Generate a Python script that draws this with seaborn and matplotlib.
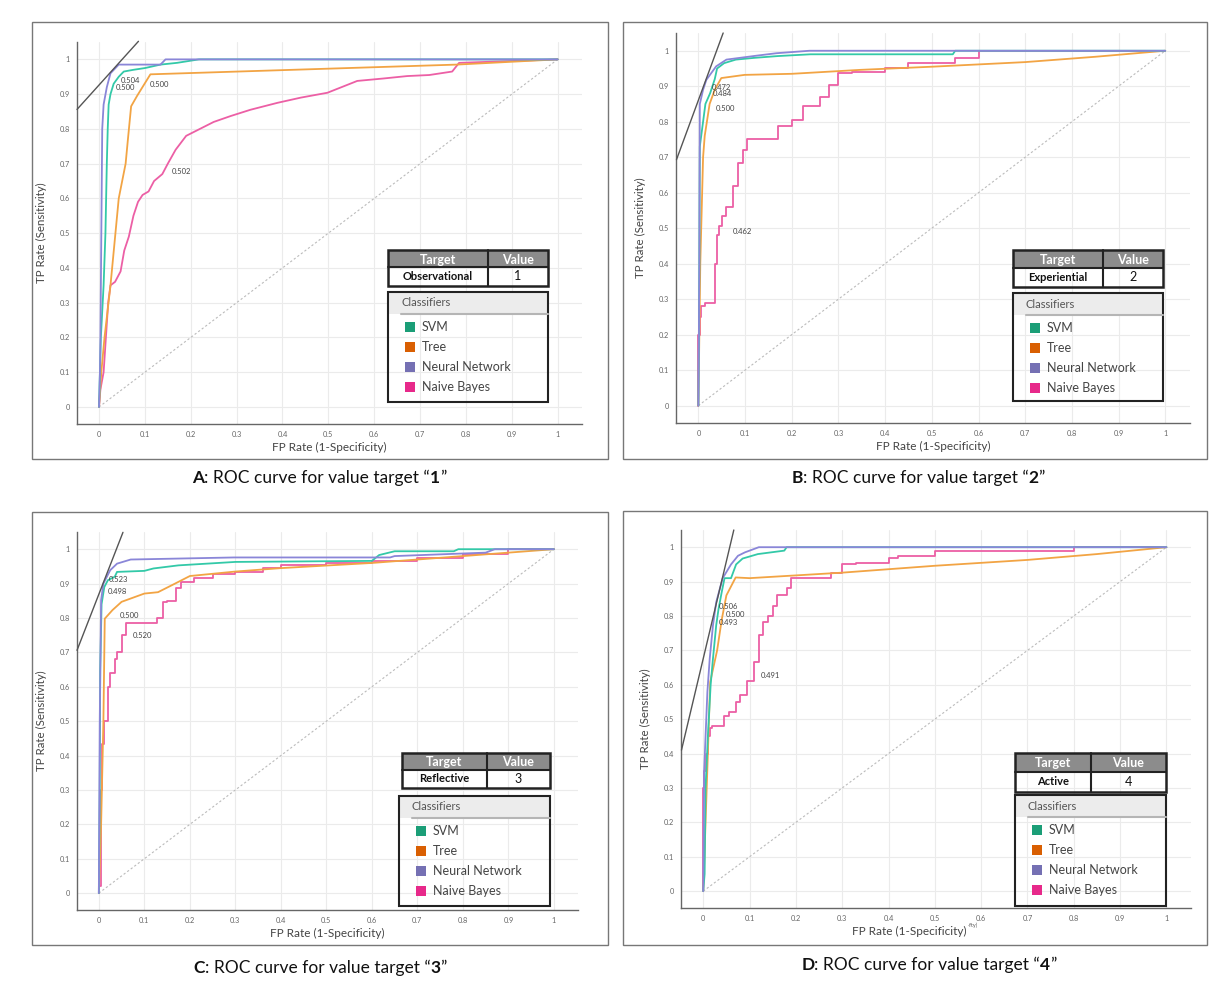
import pandas as pd
import seaborn as sns
import matplotlib.pyplot as plt
from matplotlib.patches import Rectangle
from matplotlib.lines import Line2D

# ---- data ----
classifiers = ['SVM', 'Tree', 'Neural Network', 'Naive Bayes']
legend_colors = ['#1b9e77', '#d95f02', '#7570b3', '#e7298a']
line_colors = ['#33c9a8', '#f2a444', '#8a86d8', '#ec5fa5']

panel_letters = ['A', 'B', 'C', 'D']
target_names = ['Observational', 'Experiential', 'Reflective', 'Active']
target_values = ['1', '2', '3', '4']

# panel A
a_svm_fpr = [0, 0.004, 0.010, 0.014, 0.017, 0.019, 0.021, 0.025, 0.032, 0.043, 0.054, 0.075, 0.100, 0.134, 0.170, 0.218, 1.0]
a_svm_tpr = [0, 0.20, 0.35, 0.50, 0.70, 0.80, 0.87, 0.90, 0.93, 0.95, 0.965, 0.970, 0.975, 0.985, 0.990, 1.0, 1.0]
a_tree_fpr = [0, 0.005, 0.012, 0.025, 0.043, 0.058, 0.063, 0.070, 0.083, 0.112, 0.780, 1.0]
a_tree_tpr = [0, 0.10, 0.20, 0.35, 0.60, 0.70, 0.77, 0.865, 0.895, 0.957, 0.985, 1.0]
a_nn_fpr = [0, 0.002, 0.003, 0.007, 0.010, 0.017, 0.025, 0.043, 0.134, 0.145, 1.0]
a_nn_tpr = [0, 0.10, 0.19, 0.80, 0.87, 0.92, 0.96, 0.985, 0.985, 1.0, 1.0]
a_nb_fpr = [0, 0.003, 0.010, 0.015, 0.020, 0.025, 0.035, 0.047, 0.055, 0.065, 0.075, 0.085, 0.095, 0.108,
            0.120, 0.138, 0.150, 0.167, 0.190, 0.220, 0.250, 0.287, 0.330, 0.389, 0.440, 0.498, 0.563, 0.620,
            0.672, 0.720, 0.770, 0.785, 1.0]
a_nb_tpr = [0, 0.05, 0.10, 0.20, 0.30, 0.35, 0.36, 0.39, 0.45, 0.49, 0.55, 0.59, 0.61, 0.62,
            0.65, 0.67, 0.70, 0.74, 0.78, 0.80, 0.82, 0.837, 0.855, 0.875, 0.89, 0.904, 0.938, 0.945,
            0.952, 0.955, 0.965, 0.99, 1.0]

# panel B
b_svm_fpr = [0, 0.002, 0.003, 0.010, 0.015, 0.025, 0.035, 0.040, 0.055, 0.080, 0.120, 0.170, 0.240, 0.545, 0.550, 1.0]
b_svm_tpr = [0, 0.40, 0.73, 0.80, 0.85, 0.88, 0.92, 0.95, 0.965, 0.975, 0.980, 0.985, 0.990, 0.990, 1.0, 1.0]
b_tree_fpr = [0, 0.004, 0.010, 0.0135, 0.024, 0.035, 0.049, 0.099, 0.200, 0.345, 0.500, 0.700, 0.850, 1.0]
b_tree_tpr = [0, 0.40, 0.70, 0.76, 0.85, 0.89, 0.923, 0.932, 0.935, 0.946, 0.955, 0.968, 0.983, 1.0]
b_nn_fpr = [0, 0.002, 0.003, 0.010, 0.017, 0.038, 0.060, 0.124, 0.167, 0.238, 1.0]
b_nn_tpr = [0, 0.40, 0.85, 0.89, 0.918, 0.956, 0.975, 0.986, 0.993, 1.0, 1.0]
b_nb_fpr = [0, 0.003, 0.006, 0.015, 0.035, 0.040, 0.045, 0.050, 0.060, 0.075, 0.085, 0.095, 0.105, 0.115,
            0.170, 0.200, 0.225, 0.260, 0.280, 0.300, 0.330, 0.400, 0.450, 0.550, 0.600, 0.660, 1.0]
b_nb_tpr = [0, 0.20, 0.25, 0.28, 0.29, 0.40, 0.48, 0.505, 0.533, 0.56, 0.618, 0.684, 0.72, 0.75,
            0.75, 0.787, 0.806, 0.843, 0.871, 0.904, 0.937, 0.94, 0.95, 0.965, 0.98, 1.0, 1.0]

# panel C
c_svm_fpr = [0, 0.002, 0.003, 0.006, 0.012, 0.020, 0.035, 0.040, 0.100, 0.120, 0.175, 0.300, 0.600, 0.616, 0.650, 0.780, 0.790, 1.0]
c_svm_tpr = [0, 0.30, 0.65, 0.84, 0.89, 0.91, 0.92, 0.934, 0.937, 0.944, 0.953, 0.963, 0.966, 0.983, 0.994, 0.994, 1.0, 1.0]
c_tree_fpr = [0, 0.005, 0.010, 0.013, 0.030, 0.050, 0.100, 0.130, 0.160, 0.200, 0.300, 0.400, 0.600, 0.700, 0.900, 1.0]
c_tree_tpr = [0, 0.20, 0.50, 0.798, 0.823, 0.847, 0.871, 0.875, 0.895, 0.922, 0.935, 0.945, 0.960, 0.970, 0.990, 1.0]
c_nn_fpr = [0, 0.002, 0.005, 0.010, 0.025, 0.040, 0.070, 0.297, 0.640, 0.650, 0.850, 0.870, 1.0]
c_nn_tpr = [0, 0.50, 0.852, 0.90, 0.939, 0.958, 0.970, 0.976, 0.976, 0.980, 0.990, 1.0, 1.0]
c_nb_fpr = [0, 0.005, 0.008, 0.012, 0.020, 0.025, 0.035, 0.040, 0.050, 0.060, 0.065, 0.128, 0.140, 0.150,
            0.170, 0.180, 0.210, 0.250, 0.300, 0.360, 0.400, 0.500, 0.600, 0.700, 0.800, 0.900, 1.0]
c_nb_tpr = [0, 0.02, 0.30, 0.435, 0.50, 0.60, 0.64, 0.68, 0.70, 0.75, 0.784, 0.785, 0.80, 0.847,
            0.85, 0.886, 0.905, 0.915, 0.929, 0.935, 0.945, 0.955, 0.960, 0.965, 0.975, 0.985, 1.0]

# panel D
d_svm_fpr = [0, 0.003, 0.005, 0.010, 0.016, 0.021, 0.028, 0.033, 0.040, 0.046, 0.060, 0.071, 0.085, 0.118, 0.175, 0.180, 1.0]
d_svm_tpr = [0, 0.05, 0.30, 0.45, 0.60, 0.676, 0.773, 0.82, 0.87, 0.91, 0.91, 0.95, 0.967, 0.98, 0.99, 1.0, 1.0]
d_tree_fpr = [0, 0.005, 0.010, 0.015, 0.030, 0.040, 0.050, 0.070, 0.100, 0.300, 0.500, 0.700, 0.850, 1.0]
d_tree_tpr = [0, 0.20, 0.40, 0.608, 0.70, 0.79, 0.86, 0.912, 0.91, 0.926, 0.946, 0.963, 0.980, 1.0]
d_nn_fpr = [0, 0.002, 0.005, 0.009, 0.014, 0.021, 0.028, 0.042, 0.060, 0.075, 0.090, 0.120, 1.0]
d_nn_tpr = [0, 0.35, 0.45, 0.58, 0.676, 0.773, 0.84, 0.91, 0.95, 0.975, 0.985, 1.0, 1.0]
d_nb_fpr = [0, 0.002, 0.005, 0.010, 0.015, 0.020, 0.045, 0.055, 0.070, 0.080, 0.095, 0.110, 0.120, 0.130,
            0.140, 0.150, 0.160, 0.180, 0.190, 0.225, 0.275, 0.300, 0.330, 0.400, 0.420, 0.500, 0.510,
            0.800, 0.810, 1.0]
d_nb_tpr = [0, 0.30, 0.35, 0.40, 0.45, 0.473, 0.48, 0.51, 0.52, 0.55, 0.57, 0.61, 0.667, 0.744,
            0.783, 0.80, 0.83, 0.86, 0.88, 0.909, 0.91, 0.925, 0.95, 0.955, 0.97, 0.975, 0.99,
            0.99, 1.0, 1.0]

# threshold labels (text, fpr, tpr)
a_thresholds = [('0.500', 0.036, 0.918), ('0.504', 0.048, 0.938), ('0.500', 0.110, 0.928), ('0.502', 0.158, 0.676)]
b_thresholds = [('0.472', 0.028, 0.896), ('0.484', 0.030, 0.879), ('0.500', 0.038, 0.838), ('0.462', 0.074, 0.491)]
c_thresholds = [('0.523', 0.021, 0.912), ('0.498', 0.019, 0.876), ('0.500', 0.047, 0.808), ('0.520', 0.075, 0.748)]
d_thresholds = [('0.506', 0.034, 0.827), ('0.500', 0.049, 0.803), ('0.493', 0.034, 0.782), ('0.491', 0.125, 0.628)]

# iso-performance line end points (fpr0, tpr0, fpr1, tpr1)
a_iso = (-0.048, 0.856, 0.086, 1.052)
b_iso = (-0.047, 0.693, 0.053, 1.050)
c_iso = (-0.048, 0.706, 0.053, 1.049)
d_iso = (-0.047, 0.410, 0.066, 1.050)

panels = [
    (a_svm_fpr, a_svm_tpr, a_tree_fpr, a_tree_tpr, a_nn_fpr, a_nn_tpr, a_nb_fpr, a_nb_tpr, a_thresholds, a_iso),
    (b_svm_fpr, b_svm_tpr, b_tree_fpr, b_tree_tpr, b_nn_fpr, b_nn_tpr, b_nb_fpr, b_nb_tpr, b_thresholds, b_iso),
    (c_svm_fpr, c_svm_tpr, c_tree_fpr, c_tree_tpr, c_nn_fpr, c_nn_tpr, c_nb_fpr, c_nb_tpr, c_thresholds, c_iso),
    (d_svm_fpr, d_svm_tpr, d_tree_fpr, d_tree_tpr, d_nn_fpr, d_nn_tpr, d_nb_fpr, d_nb_tpr, d_thresholds, d_iso),
]

# ---- layout (pixels) ----
W, H = 1225, 984
axes_px = [(77, 42, 582, 424), (676, 33, 1190, 423), (77, 532, 578, 910), (681, 530, 1191, 908)]
frame_px = [(32, 22, 608, 459), (623, 22, 1207, 459), (32, 512, 608, 945), (623, 511, 1207, 945)]
table_px = [(388, 250, 548, 286, 488), (1013, 250, 1163, 287, 1103), (402, 753, 550, 788, 487), (1015, 753, 1166, 792, 1091)]
legend_px = [(388, 292, 548, 402), (1013, 293, 1163, 401), (399, 796, 550, 906), (1015, 795, 1166, 906)]
caption_px = [(319, 478), (918, 478), (320, 968), (929, 965)]

sns.set_theme(style='white')
plt.rcParams['font.family'] = ['Lato', 'DejaVu Sans']

fig = plt.figure(figsize=(W / 100, H / 100), dpi=100)
fig.patch.set_facecolor('white')


def fx(x):
    return x / W


def fy(y):
    return 1 - y / H


def box(x0, y0, x1, y1, **kw):
    fig.add_artist(Rectangle((fx(x0), fy(y1)), (x1 - x0) / W, (y1 - y0) / H,
                             transform=fig.transFigure, **kw))


def hline(x0, x1, y, **kw):
    fig.add_artist(Line2D([fx(x0), fx(x1)], [fy(y), fy(y)], transform=fig.transFigure, **kw))


def vline(x, y0, y1, **kw):
    fig.add_artist(Line2D([fx(x), fx(x)], [fy(y0), fy(y1)], transform=fig.transFigure, **kw))


ticks = [i / 10 for i in range(11)]
tick_labels = ['0'] + [f'{t:.1f}' for t in ticks[1:-1]] + ['1']
draw_order = [3, 1, 0, 2]

for p, data in enumerate(panels):
    fpr_tpr = [(data[0], data[1]), (data[2], data[3]), (data[4], data[5]), (data[6], data[7])]
    thresholds, iso = data[8], data[9]

    fx0, fy0, fx1, fy1 = frame_px[p]
    box(fx0, fy0, fx1, fy1, fill=False, edgecolor='#777777', lw=1.0)

    l, t, r, b = axes_px[p]
    ax = fig.add_axes([fx(l), fy(b), (r - l) / W, (b - t) / H])
    ax.set_xlim(-0.048, 1.053)
    ax.set_ylim(-0.049, 1.05)

    rows = []
    for k in draw_order:
        fpr, tpr = fpr_tpr[k]
        rows.append(pd.DataFrame({'fpr': fpr, 'tpr': tpr, 'classifier': classifiers[k]}))
    df = pd.concat(rows, ignore_index=True)

    # chance diagonal
    ax.plot([0, 1], [0, 1], color='#bbbbbb', lw=0.8, ls=(0, (2, 2)), zorder=2)

    for k in draw_order:
        sub = df[df['classifier'] == classifiers[k]]
        sns.lineplot(data=sub, x='fpr', y='tpr', sort=False, estimator=None, ax=ax,
                     color=line_colors[k], lw=1.3, zorder=3,
                     drawstyle='steps-pre' if (k == 3 and p > 0) else 'default')

    ax.plot([iso[0], iso[2]], [iso[1], iso[3]], color='#555555', lw=1.0, zorder=4, clip_on=False)

    for txt, x, y in thresholds:
        ax.text(x, y, txt, fontsize=5.5, color='#444444', va='center', ha='left', zorder=5)

    ax.set_xticks(ticks)
    ax.set_yticks(ticks)
    ax.set_xticklabels(tick_labels)
    ax.set_yticklabels(tick_labels)
    ax.tick_params(length=0, labelsize=5.3, labelcolor='#666666', pad=5)
    ax.grid(True, color='#ebebeb', lw=0.8)
    ax.set_axisbelow(True)
    for s in ['top', 'right']:
        ax.spines[s].set_visible(False)
    for s in ['left', 'bottom']:
        ax.spines[s].set_color('#666666')
        ax.spines[s].set_linewidth(1.0)
    ax.set_xlabel('FP Rate (1-Specificity)', fontsize=8.5, color='#444444', labelpad=3)
    ax.set_ylabel('TP Rate (Sensitivity)', fontsize=8.3, color='#444444', labelpad=9)
    if p == 3:
        ax.xaxis.label.set_x((909 - l) / (r - l))

    # target / value table
    x0, y0, x1, y1, xs = table_px[p]
    ym = (y0 + y1) / 2 - 1
    box(x0, y0, x1, ym, facecolor='#8c8c8c', edgecolor='none')
    box(x0, y0, x1, y1, fill=False, edgecolor='#222222', lw=1.8)
    hline(x0, x1, ym, color='#222222', lw=1.5)
    vline(xs, y0, y1, color='#222222', lw=1.5)
    fig.text(fx((x0 + xs) / 2), fy((y0 + ym) / 2 + 1), 'Target', color='white', fontsize=9,
             fontweight='bold', ha='center', va='center')
    fig.text(fx((xs + x1) / 2), fy((y0 + ym) / 2 + 1), 'Value', color='white', fontsize=9,
             fontweight='bold', ha='center', va='center')
    fig.text(fx((x0 + xs) / 2), fy((ym + y1) / 2), target_names[p], color='#111111', fontsize=8,
             fontweight='bold', ha='center', va='center')
    fig.text(fx((xs + x1) / 2), fy((ym + y1) / 2), target_values[p], color='#111111', fontsize=9,
             ha='center', va='center')

    # classifiers legend
    x0, y0, x1, y1 = legend_px[p]
    box(x0, y0, x1, y0 + 22, facecolor='#ececec', edgecolor='none')
    box(x0, y0, x1, y1, fill=False, edgecolor='#222222', lw=1.5)
    hline(x0 + 13, x1, y0 + 22, color='#b5b5b5', lw=1.5)
    fig.text(fx(x0 + 13), fy(y0 + 11), 'Classifiers', color='#555555', fontsize=8, va='center')
    for k, name in enumerate(classifiers):
        yy = y0 + 35 + 20 * k
        box(x0 + 17, yy - 5, x0 + 27, yy + 5, facecolor=legend_colors[k], edgecolor='none')
        fig.text(fx(x0 + 34), fy(yy), name, color='#444444', fontsize=9, va='center')

# extra superscript artefact on panel D's axis label
fig.text(fx(968), fy(925.5), '-fty)', fontsize=4, color='#555555', va='center', ha='left')

# captions with bold letter and bold value
renderer = fig.canvas.get_renderer()
for p in range(4):
    cx, cy = caption_px[p]
    parts = [(panel_letters[p], 'bold'), (': ROC curve for value target \u201c', 'normal'),
             (target_values[p], 'bold'), ('\u201d', 'normal')]
    texts = []
    for s, w in parts:
        texts.append(fig.text(0, fy(cy), s, fontsize=12.5, fontweight=w, color='#111111',
                              va='center', ha='left'))
    widths = [tx.get_window_extent(renderer).width for tx in texts]
    x = cx - sum(widths) / 2
    for tx, wd in zip(texts, widths):
        tx.set_x(fx(x))
        x += wd

fig.savefig('out.png', dpi=100, facecolor='white')
